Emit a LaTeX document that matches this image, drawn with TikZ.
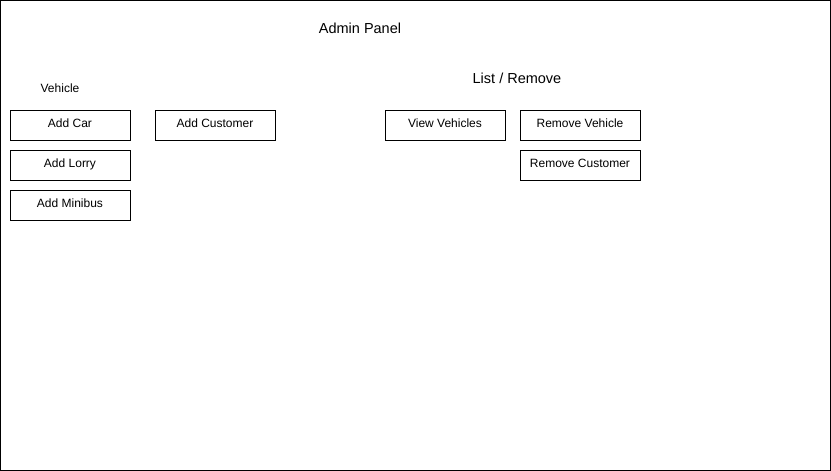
\documentclass[tikz,border=0pt]{standalone}
\usepackage{fontspec}
\setmainfont{Liberation Sans}
\begin{document}
\begin{tikzpicture}[x=1pt,y=-1pt,
  btn/.style={draw=black,line width=0.8pt,minimum width=120pt,minimum height=30pt,inner sep=0pt,
    font=\fontsize{12}{14}\selectfont,text height=9pt,text depth=4pt},
  lbl/.style={inner sep=0pt,font=\fontsize{12}{14}\selectfont},
  ttl/.style={inner sep=0pt,font=\fontsize{14.5}{16}\selectfont}]
\useasboundingbox (0,0) rectangle (831,471);
\draw[line width=0.8pt] (0.5,0.5) rectangle (830.5,470.5);
\node[ttl] (title) at (360,28.5) {Admin Panel};
\node[lbl] (vehicle) at (60,88.5) {Vehicle};
\node[ttl] (list) at (517,78.5) {List / Remove};
\node[btn] (addcar) at (70,125) {Add Car};
\node[btn] (addlorry) at (70,165) {Add Lorry};
\node[btn] (addmini) at (70,205) {Add Minibus};
\node[btn] (addcust) at (215,125) {Add Customer};
\node[btn] (viewveh) at (445,125) {View Vehicles};
\node[btn] (remveh) at (580,125) {Remove Vehicle};
\node[btn] (remcust) at (580,165) {Remove Customer};
\end{tikzpicture}
\end{document}
